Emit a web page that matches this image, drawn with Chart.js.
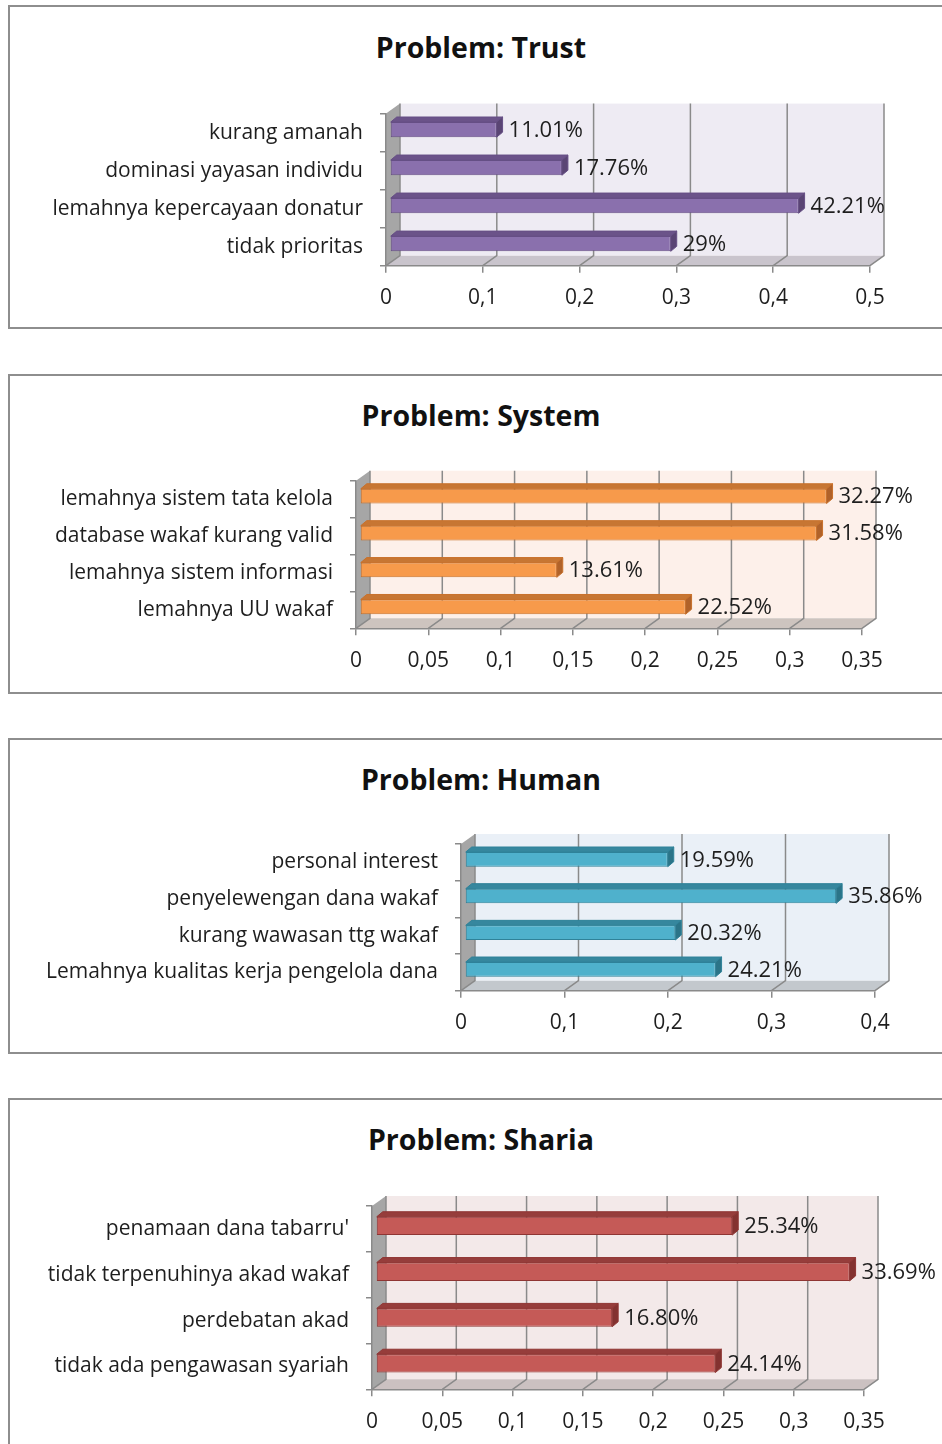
<!DOCTYPE html>
<html>
<head>
<meta charset="utf-8">
<script src="https://cdn.jsdelivr.net/npm/chart.js@4.4.1/dist/chart.umd.min.js"></script>
<style>
  body { margin: 0; background: #fff; width: 942px; height: 1444px; overflow: hidden; position: relative; font-family: 'Open Sans', sans-serif; }
  .box { position: absolute; left: 8px; width: 960px; border: 2px solid #8e8e8e; box-sizing: border-box; }
  .title { position: absolute; left: 0; width: 962px; text-align: center; font-weight: bold; font-size: 28.5px; line-height: 36px; color: #111; }
  canvas { position: absolute; left: 0; }
</style>
</head>
<body>
<script>
// --- data ---
const trustLabels = ['kurang amanah', 'dominasi yayasan individu', 'lemahnya kepercayaan donatur', 'tidak prioritas'];
const trustValues = [0.1101, 0.1776, 0.4221, 0.29];
const trustText = ['11.01%', '17.76%', '42.21%', '29%'];
const trustTicks = ['0', '0,1', '0,2', '0,3', '0,4', '0,5'];

const systemLabels = ['lemahnya sistem tata kelola', 'database wakaf kurang valid', 'lemahnya sistem informasi', 'lemahnya UU wakaf'];
const systemValues = [0.3227, 0.3158, 0.1361, 0.2252];
const systemText = ['32.27%', '31.58%', '13.61%', '22.52%'];
const systemTicks = ['0', '0,05', '0,1', '0,15', '0,2', '0,25', '0,3', '0,35'];

const humanLabels = ['personal interest', 'penyelewengan dana wakaf', 'kurang wawasan ttg wakaf', 'Lemahnya kualitas kerja pengelola dana'];
const humanValues = [0.1959, 0.3586, 0.2032, 0.2421];
const humanText = ['19.59%', '35.86%', '20.32%', '24.21%'];
const humanTicks = ['0', '0,1', '0,2', '0,3', '0,4'];

const shariaLabels = ["penamaan dana tabarru'", 'tidak terpenuhinya akad wakaf', 'perdebatan akad', 'tidak ada pengawasan syariah'];
const shariaValues = [0.2534, 0.3369, 0.1680, 0.2414];
const shariaText = ['25.34%', '33.69%', '16.80%', '24.14%'];
const shariaTicks = ['0', '0,05', '0,1', '0,15', '0,2', '0,25', '0,3', '0,35'];

// --- layout / style per panel ---
const panels = [
  { title: 'Problem: Trust', labels: trustLabels, values: trustValues, text: trustText, ticks: trustTicks, max: 0.5, step: 0.1,
    top: 5, h: 324, titleY: 47, f: { l: 386, r: 870, t: 113.6, b: 265.7 },
    c: { wall: '#eeebf3', floor: '#c9c4cc', front: '#8a70ad', edge: '#664f85', barTop: '#6b5389', barSide: '#5a4574' } },
  { title: 'Problem: System', labels: systemLabels, values: systemValues, text: systemText, ticks: systemTicks, max: 0.35, step: 0.05,
    top: 374, h: 320, titleY: 415, f: { l: 356, r: 862, t: 480.7, b: 628.3 },
    c: { wall: '#fdf0ea', floor: '#cdc4bf', front: '#f79a4b', edge: '#c8712b', barTop: '#c77633', barSide: '#b0622a' } },
  { title: 'Problem: Human', labels: humanLabels, values: humanValues, text: humanText, ticks: humanTicks, max: 0.4, step: 0.1,
    top: 738, h: 316, titleY: 779, f: { l: 461, r: 875, t: 844, b: 990.7 },
    c: { wall: '#eaf0f7', floor: '#c3c8cd', front: '#4fb1cc', edge: '#2f8299', barTop: '#36879e', barSide: '#2b7488' } },
  { title: 'Problem: Sharia', labels: shariaLabels, values: shariaValues, text: shariaText, ticks: shariaTicks, max: 0.35, step: 0.05,
    top: 1098, h: 360, titleY: 1139, f: { l: 372, r: 864, t: 1206, b: 1389.3 },
    c: { wall: '#f3e9e9', floor: '#cbc1c1', front: '#c55a57', edge: '#8f3533', barTop: '#963d3b', barSide: '#833230' } }
];

Chart.defaults.font.family = "'Open Sans', sans-serif";
Chart.defaults.color = '#1e1e1e';

const DEPTH_X = 14, DEPTH_Y = -10;   // depth of the 3d box
const SHIFT_X = 4, SHIFT_Y = -3;     // bars sit a bit into the box
const BAR_DX = 6, BAR_DY = -5;       // bar thickness

function quad(ctx, x1, y1, x2, y2, x3, y3, x4, y4) {
  ctx.beginPath();
  ctx.moveTo(x1, y1); ctx.lineTo(x2, y2); ctx.lineTo(x3, y3); ctx.lineTo(x4, y4);
  ctx.closePath();
}

const box3d = {
  id: 'box3d',
  beforeDraw(chart, args, o) {
    const { ctx, chartArea: a, scales: { x } } = chart;
    ctx.save();
    ctx.fillStyle = o.wall;
    ctx.fillRect(a.left + DEPTH_X, a.top + DEPTH_Y, a.right - a.left, a.bottom - a.top);
    ctx.fillStyle = o.floor;
    quad(ctx, a.left, a.bottom, a.right, a.bottom, a.right + DEPTH_X, a.bottom + DEPTH_Y, a.left + DEPTH_X, a.bottom + DEPTH_Y);
    ctx.fill();
    ctx.fillStyle = '#a6a6a6';
    quad(ctx, a.left, a.top, a.left + DEPTH_X, a.top + DEPTH_Y, a.left + DEPTH_X, a.bottom + DEPTH_Y, a.left, a.bottom);
    ctx.fill();
    ctx.strokeStyle = '#8a8a8a';
    ctx.lineWidth = 1.5;
    x.ticks.forEach(t => {
      const px = x.getPixelForValue(t.value);
      ctx.beginPath();
      ctx.moveTo(px + DEPTH_X, a.top + DEPTH_Y);
      ctx.lineTo(px + DEPTH_X, a.bottom + DEPTH_Y);
      ctx.lineTo(px, a.bottom);
      ctx.stroke();
    });
    ctx.restore();
  },
  beforeDatasetsDraw(chart) {
    chart.ctx.save();
    chart.ctx.translate(SHIFT_X, SHIFT_Y);
  },
  afterDatasetsDraw(chart, args, o) {
    const ctx = chart.ctx;
    const meta = chart.getDatasetMeta(0);
    ctx.lineWidth = 1;
    ctx.strokeStyle = o.edge;
    meta.data.forEach(bar => {
      const top = bar.y - bar.height / 2, bot = bar.y + bar.height / 2;
      ctx.fillStyle = o.barTop;
      quad(ctx, bar.base, top, bar.x, top, bar.x + BAR_DX, top + BAR_DY, bar.base + BAR_DX, top + BAR_DY);
      ctx.fill(); ctx.stroke();
      ctx.fillStyle = o.barSide;
      quad(ctx, bar.x, top, bar.x + BAR_DX, top + BAR_DY, bar.x + BAR_DX, bot + BAR_DY, bar.x, bot);
      ctx.fill(); ctx.stroke();
    });
    ctx.restore();

    ctx.save();
    ctx.font = "22px 'Open Sans'";
    ctx.fillStyle = '#1e1e1e';
    ctx.textBaseline = 'middle';
    meta.data.forEach((bar, i) => {
      ctx.fillText(o.text[i], bar.x + SHIFT_X + 12, bar.y + SHIFT_Y + 1);
    });
    ctx.restore();
  }
};

panels.forEach(p => {
  const box = document.createElement('div');
  box.className = 'box';
  box.style.top = p.top + 'px';
  box.style.height = p.h + 'px';
  document.body.appendChild(box);

  const title = document.createElement('div');
  title.className = 'title';
  title.style.top = (p.titleY - 18) + 'px';
  title.textContent = p.title;
  document.body.appendChild(title);

  const canvasH = Math.min(p.h, 1444 - p.top);
  const canvas = document.createElement('canvas');
  canvas.width = 942;
  canvas.height = canvasH;
  canvas.style.top = p.top + 'px';
  document.body.appendChild(canvas);

  new Chart(canvas, {
    type: 'bar',
    data: {
      labels: p.labels,
      datasets: [{
        data: p.values,
        backgroundColor: p.c.front,
        borderColor: p.c.edge,
        borderWidth: 1,
        borderSkipped: false,
        barPercentage: 0.4,
        categoryPercentage: 1
      }]
    },
    options: {
      indexAxis: 'y',
      responsive: false,
      animation: false,
      layout: { padding: { top: p.f.t - p.top, right: 942 - p.f.r, left: 0, bottom: 0 } },
      plugins: {
        legend: { display: false },
        tooltip: { enabled: false },
        box3d: { wall: p.c.wall, floor: p.c.floor, edge: p.c.edge, barTop: p.c.barTop, barSide: p.c.barSide, text: p.text }
      },
      scales: {
        x: {
          min: 0, max: p.max,
          ticks: { stepSize: p.step, autoSkip: false, maxRotation: 0, padding: 13, font: { size: 21 }, callback: (v, i) => p.ticks[i] },
          grid: { drawOnChartArea: false, tickLength: 7, color: '#8a8a8a', lineWidth: 1.5 },
          border: { color: '#8a8a8a', width: 1.5 },
          afterFit: s => { s.height = canvasH - (p.f.b - p.top); }
        },
        y: {
          ticks: { autoSkip: false, padding: 17, font: { size: 21 } },
          grid: { drawOnChartArea: false, tickLength: 6, color: '#8a8a8a', lineWidth: 1.5 },
          border: { color: '#8a8a8a', width: 1.5 },
          afterFit: s => { s.width = p.f.l; }
        }
      }
    },
    plugins: [box3d]
  });
});
</script>
</body>
</html>
